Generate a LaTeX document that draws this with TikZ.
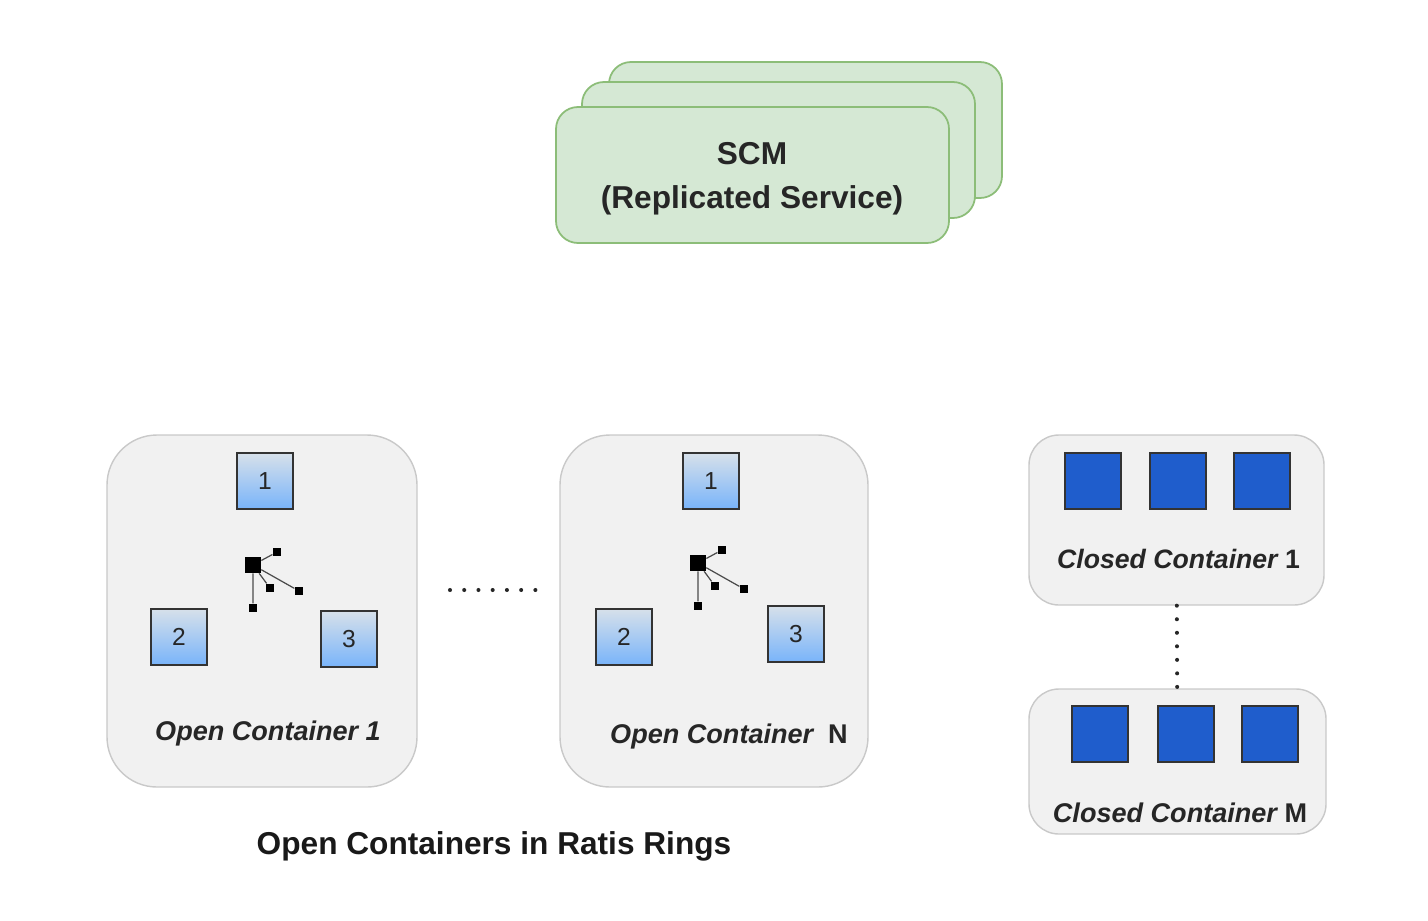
\documentclass[tikz,border=0pt]{standalone}
\usepackage{fontspec}
\setmainfont{Liberation Sans}
\usepackage{tikz}
\definecolor{scmfill}{HTML}{D5E8D4}
\definecolor{scmline}{HTML}{8CBD78}
\definecolor{ringfill}{HTML}{F1F1F1}
\definecolor{ringline}{HTML}{C9C9C9}
\definecolor{blocktop}{HTML}{D6E0EA}
\definecolor{blockbot}{HTML}{79B4FA}
\definecolor{closedblue}{HTML}{1F5DCC}
\tikzset{
  scmbox/.style={draw=scmline,fill=scmfill,line width=1pt,rounded corners=0.44cm,
    minimum width=7.86cm,minimum height=2.72cm,inner sep=0pt},
  ringbox/.style={draw=ringline,fill=ringfill,line width=0.8pt,inner sep=0pt},
  openblock/.style={draw=black!80,top color=blocktop,bottom color=blockbot,line width=1.1pt,
    minimum size=1.11cm,inner sep=0pt,font=\fontsize{14}{14}\selectfont,text=black!85},
  closedblock/.style={draw=black!80,fill=closedblue,line width=1.1pt,minimum size=1.11cm,inner sep=0pt},
  hubnode/.style={fill=black,minimum size=0.32cm,inner sep=0pt},
  leafnode/.style={fill=black,minimum size=0.17cm,inner sep=0pt},
  hubline/.style={draw=black!70,line width=0.7pt},
  dotline/.style={line width=2.3pt,line cap=round,dash pattern=on 0pt off 7.7pt,black!85},
  caption/.style={font=\fontsize{15.4}{15.4}\selectfont\bfseries\itshape,text=black!85,inner sep=0pt}
}
\begin{document}
\begin{tikzpicture}[scale=0.2]
  \useasboundingbox (0,0) rectangle (142.8,-92);
  % SCM stack
  \node[scmbox] (scmback) at (80.55,-13) {};
  \node[scmbox] (scmmid) at (77.85,-15) {};
  \node[scmbox] (scm) at (75.25,-17.5) {};
  \node[font=\fontsize{18}{25}\selectfont\bfseries,text=black!85,align=center,inner sep=0pt] (scmlabel) at (75.2,-17.85) {SCM\\(Replicated Service)};
  % open containers
  \node[ringbox,rounded corners=1cm,minimum width=6.2cm,minimum height=7.04cm] (openone) at (26.2,-61.1) {};
  \node[ringbox,rounded corners=1cm,minimum width=6.16cm,minimum height=7.04cm] (openN) at (71.4,-61.1) {};
  \node[openblock] (oneA) at (26.5,-48.1) {1};
  \node[openblock] (oneB) at (17.9,-63.7) {2};
  \node[openblock] (oneC) at (34.9,-63.9) {3};
  \node[openblock] (nA) at (71.1,-48.1) {1};
  \node[openblock] (nB) at (62.4,-63.7) {2};
  \node[openblock] (nC) at (79.6,-63.4) {3};
  \foreach \name/\dx/\dy in {one/25.3/-56.5,n/69.8/-56.3} {
    \node[hubnode] (\name hub) at (\dx,\dy) {};
    \node[leafnode] (\name leafA) at (\dx+2.4,\dy+1.3) {};
    \node[leafnode] (\name leafB) at (\dx+1.7,\dy-2.3) {};
    \node[leafnode] (\name leafC) at (\dx+4.6,\dy-2.6) {};
    \node[leafnode] (\name leafD) at (\dx,\dy-4.3) {};
    \draw[hubline] (\name hub) -- (\name leafA);
    \draw[hubline] (\name hub) -- (\name leafB);
    \draw[hubline] (\name hub) -- (\name leafC);
    \draw[hubline] (\name hub) -- (\name leafD);
  }
  \node[caption] (onelabel) at (26.8,-73.3) {Open Container 1};
  \node[caption] (nlabel) at (72.9,-73.6) {Open Container\ \ {\upshape N}};
  \coordinate (dotsL) at (45,-59);
  \coordinate (dotsR) at (53.7,-59);
  \draw[dotline,dash pattern=on 0pt off 8.1pt] (dotsL) -- (dotsR);
  % closed containers
  \node[ringbox,rounded corners=0.6cm,minimum width=5.9cm,minimum height=3.4cm] (closedone) at (117.65,-52) {};
  \node[ringbox,rounded corners=0.6cm,minimum width=5.94cm,minimum height=2.9cm] (closedM) at (117.75,-76.15) {};
  \foreach \i/\cx in {A/109.3,B/117.8,C/126.2} {
    \node[closedblock] (closedone\i) at (\cx,-48.1) {};
  }
  \foreach \i/\cx in {A/110,B/118.6,C/127} {
    \node[closedblock] (closedM\i) at (\cx,-73.4) {};
  }
  \node[caption,font=\fontsize{15.15}{15.15}\selectfont\bfseries\itshape] (closedonelabel) at (117.85,-55.9) {Closed Container {\upshape 1}};
  \node[caption] (closedMlabel) at (118,-81.3) {Closed Container {\upshape M}};
  \draw[dotline] (closedone) -- (closedM);
  % caption
  \node[inner sep=0pt,font=\fontsize{18}{18}\selectfont\bfseries,text=black!90] (ringtitle) at (49.4,-84.6) {Open Containers in Ratis Rings};
\end{tikzpicture}
\end{document}
